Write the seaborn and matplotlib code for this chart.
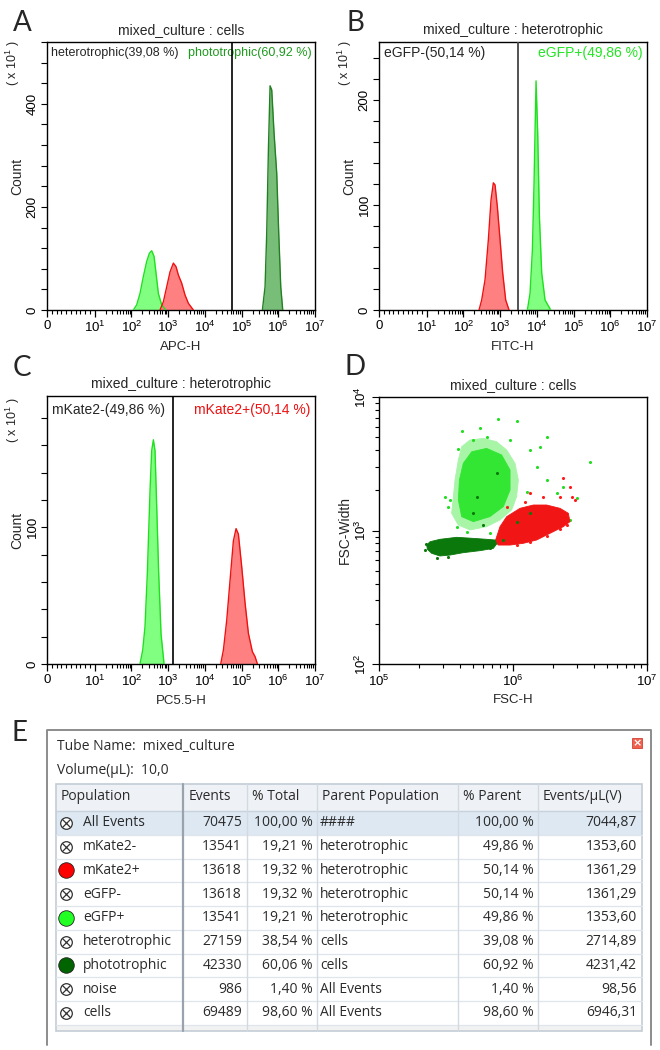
import numpy as np
import matplotlib
matplotlib.use('Agg')
import matplotlib.pyplot as plt
from matplotlib.patches import Rectangle
from matplotlib.ticker import FixedLocator, MultipleLocator, NullFormatter
import seaborn as sns

apc_gfp_x = [113, 139, 171, 211, 260, 308, 356, 413, 468, 542, 667, 858]
apc_gfp_y = [0, 10, 32, 65, 94, 110, 115, 104, 71, 32, 10, 0]
apc_mk_x = [601, 741, 914, 1125, 1387, 1640, 1897, 2339, 2884, 3556, 4864]
apc_mk_y = [0, 16, 45, 74, 91, 84, 68, 52, 29, 13, 0]
apc_photo_x = [369e3, 436e3, 484e3, 538e3, 597e3, 663e3, 767e3, 907e3, 1028e3, 1167e3, 1321e3]
apc_photo_y = [0, 45, 149, 311, 435, 427, 343, 265, 149, 45, 0]

fitc_neg_x = [266, 314, 387, 477, 565, 653, 726, 840, 993, 1175, 1416, 1746]
fitc_neg_y = [0, 9.5, 28.6, 66.7, 105, 121, 119, 98, 67, 35, 9.5, 0]
fitc_pos_x = [5520, 6520, 7550, 8380, 9500, 10550, 11720, 13560, 16710, 23850]
fitc_pos_y = [0, 15.9, 57, 121, 218, 168, 89, 35, 9.5, 0]

pc55_neg_x = [171, 203, 234, 271, 321, 356, 396, 439, 488, 553, 640, 773]
pc55_neg_y = [0, 10.2, 27.3, 66.2, 127, 156, 164, 156, 115, 66, 22, 0]
pc55_pos_x = [27000, 32000, 39400, 48500, 59800, 70800, 81900, 101000, 124500, 153500, 197000, 233000, 270000]
pc55_pos_y = [0, 10.2, 32, 61, 90, 99, 95, 71, 44.5, 22.4, 9, 5.4, 0]

gate_apc = 55000
gate_fitc = 3070
gate_pc55 = 1360

# ---- panel D: cloud outlines and loose events, in log10 decades (FSC-H, FSC-Width)
gfp_outer_lx = [5.555, 5.542, 5.592, 5.679, 5.804, 5.903, 5.990, 6.027, 6.040, 6.015, 5.953, 5.878, 5.779, 5.679, 5.617, 5.592, 5.567]
gfp_outer_ly = [3.253, 3.129, 3.041, 3.004, 3.029, 3.079, 3.154, 3.253, 3.378, 3.503, 3.603, 3.665, 3.690, 3.678, 3.628, 3.528, 3.378]
gfp_core_lx = [5.592, 5.617, 5.704, 5.828, 5.928, 5.978, 5.978, 5.915, 5.803, 5.692, 5.629, 5.600]
gfp_core_ly = [3.228, 3.104, 3.066, 3.104, 3.179, 3.303, 3.453, 3.566, 3.615, 3.590, 3.503, 3.378]
mk_lx = [5.866, 5.903, 5.953, 6.052, 6.152, 6.251, 6.351, 6.413, 6.425, 6.376, 6.276, 6.177, 6.077, 5.978, 5.891]
mk_ly = [2.916, 3.029, 3.104, 3.166, 3.191, 3.191, 3.166, 3.129, 3.066, 3.029, 2.979, 2.929, 2.904, 2.891, 2.891]
photo_lx = [5.356, 5.381, 5.455, 5.580, 5.704, 5.804, 5.866, 5.878, 5.853, 5.754, 5.629, 5.530, 5.455, 5.393, 5.361]
photo_ly = [2.891, 2.916, 2.934, 2.949, 2.941, 2.934, 2.929, 2.899, 2.866, 2.849, 2.834, 2.816, 2.809, 2.829, 2.859]

gfp_pts_lx = [5.891, 6.027, 5.622, 5.754, 6.256, 6.575, 6.475, 6.425, 5.592, 6.127, 6.251, 6.376, 6.177,
              6.326, 6.102, 5.517, 5.493, 5.580, 5.654, 5.828, 5.978, 5.803, 5.704, 5.530, 6.201]
gfp_pts_ly = [3.835, 3.823, 3.748, 3.765, 3.698, 3.516, 3.241, 3.079, 3.608, 3.603, 3.378, 3.328, 3.478,
              3.278, 3.291, 3.179, 3.253, 3.029, 2.991, 2.979, 3.678, 3.703, 3.678, 3.228, 3.628]
mk_pts_lx = [6.376, 6.425, 6.463, 6.438, 6.405, 6.351, 6.251, 6.127, 6.027, 5.828, 6.127, 6.226, 6.090, 6.351, 5.953]
mk_pts_ly = [3.391, 3.328, 3.228, 3.253, 3.041, 3.009, 2.959, 2.916, 2.891, 2.904, 3.278, 3.253, 3.216, 3.253, 3.179]
photo_pts_lx = [5.351, 5.343, 5.430, 5.517, 5.828, 5.779, 5.704, 5.729, 5.878, 6.027, 6.127, 5.928]
photo_pts_ly = [2.899, 2.854, 2.792, 2.799, 2.866, 3.041, 3.129, 3.253, 3.428, 3.066, 3.129, 2.929]

# ---- panel E statistics table
populations = ['All Events', 'mKate2-', 'mKate2+', 'eGFP-', 'eGFP+', 'heterotrophic', 'phototrophic', 'noise', 'cells']
pop_colors = [None, None, '#ff0000', None, '#22ff22', None, '#006400', None, None]
events = [70475, 13541, 13618, 13618, 13541, 27159, 42330, 986, 69489]
pct_total = [100.00, 19.21, 19.32, 19.32, 19.21, 38.54, 60.06, 1.40, 98.60]
parents = ['####', 'heterotrophic', 'heterotrophic', 'heterotrophic', 'heterotrophic', 'cells', 'cells', 'All Events', 'All Events']
pct_parent = [100.00, 49.86, 50.14, 50.14, 49.86, 39.08, 60.92, 1.40, 98.60]
events_per_ul = [7044.87, 1353.60, 1361.29, 1361.29, 1353.60, 2714.89, 4231.42, 98.56, 6946.31]
columns = ['Population', 'Events', '% Total', 'Parent Population', '% Parent', 'Events/µL(V)']

sns.set_theme(style='white')
plt.rcParams['font.family'] = ['Liberation Sans', 'DejaVu Sans']
plt.rcParams['mathtext.fontset'] = 'custom'
plt.rcParams['mathtext.rm'] = 'Liberation Sans'
plt.rcParams['mathtext.it'] = 'Liberation Sans:italic'
plt.rcParams['mathtext.bf'] = 'Liberation Sans:bold'

LGREEN_FILL, LGREEN_EDGE = '#80ff80', '#1fe01f'
RED_FILL, RED_EDGE = '#ff8080', '#ee1111'
DGREEN_FILL, DGREEN_EDGE = '#78bd78', '#237f23'


def comma(v, nd=2):
    return f'{v:.{nd}f}'.replace('.', ',')


def base_style(ax):
    for s in ax.spines.values():
        s.set_visible(True)
        s.set_color('black')
        s.set_linewidth(1.0)
    ax.tick_params(which='both', direction='out', bottom=True, left=True, top=False, right=False,
                   colors='black', labelsize=9.5, pad=2)
    ax.tick_params(axis='x', which='major', length=5, width=0.9)
    ax.tick_params(axis='x', which='minor', length=3, width=0.8)
    ax.tick_params(axis='y', which='both', length=4, width=0.8)
    ax.set_xlabel('')
    ax.set_ylabel('')


def flow_hist(ax, ymax, ystep, ylabels, title, xlabel, ylabel_y):
    ax.set_xscale('symlog', linthresh=10, linscale=1.17)
    ax.set_xlim(0, 1e7)
    ax.set_xticks([0] + [10 ** k for k in range(1, 8)])
    ax.set_xticklabels(['0'] + [rf'$\mathregular{{10^{{{k}}}}}$' for k in range(1, 8)])
    minors = list(range(1, 10)) + [m * 10 ** k for k in range(1, 7) for m in range(2, 10)]
    ax.xaxis.set_minor_locator(FixedLocator(minors))
    ax.xaxis.set_minor_formatter(NullFormatter())
    ax.set_ylim(0, ymax)
    ax.yaxis.set_major_locator(FixedLocator(ylabels))
    ax.yaxis.set_minor_locator(MultipleLocator(ystep))
    ax.set_yticklabels([str(v) for v in ylabels], rotation=90, va='center')
    base_style(ax)
    ax.text(0.5, 1.045, title, transform=ax.transAxes, ha='center', va='center', fontsize=10)
    ax.text(0.5, -0.138, xlabel, transform=ax.transAxes, ha='center', va='center', fontsize=9.5)
    ax.text(-0.112, 0.5, 'Count', transform=ax.transAxes, rotation=90, ha='center', va='center', fontsize=10)
    ax.text(-0.128, ylabel_y, r'( x $\mathregular{10^{1}}$ )', transform=ax.transAxes, rotation=90,
            ha='center', va='center', fontsize=9)


def draw_peak(ax, x, y, fill, edge):
    ax.fill_between(x, y, color=fill, lw=0, zorder=2)
    sns.lineplot(x=x, y=y, ax=ax, color=edge, lw=1.0, estimator=None, sort=False, zorder=3)


fig = plt.figure(figsize=(6.6, 10.5), dpi=100)
W, H = 660, 1050


def rect(l, t, w, h):
    return [l / W, (H - t - h) / H, w / W, h / H]


# ---------------- A
axA = fig.add_axes(rect(47, 42, 268, 268))
draw_peak(axA, apc_gfp_x, apc_gfp_y, LGREEN_FILL, LGREEN_EDGE)
draw_peak(axA, apc_mk_x, apc_mk_y, RED_FILL, RED_EDGE)
draw_peak(axA, apc_photo_x, apc_photo_y, DGREEN_FILL, DGREEN_EDGE)
axA.axvline(gate_apc, color='black', lw=1.2, zorder=4)
flow_hist(axA, 520, 40, [0, 200, 400], 'mixed_culture : cells', 'APC-H', 0.92)
axA.text(0.015, 0.958, 'heterotrophic(39,08 %)', transform=axA.transAxes, ha='left', va='center', fontsize=9)
axA.text(0.988, 0.958, 'phototrophic(60,92 %)', transform=axA.transAxes, ha='right', va='center', fontsize=9,
         color='#1e9a1e')

# ---------------- B
axB = fig.add_axes(rect(379, 42, 268, 268))
draw_peak(axB, fitc_neg_x, fitc_neg_y, RED_FILL, RED_EDGE)
draw_peak(axB, fitc_pos_x, fitc_pos_y, LGREEN_FILL, LGREEN_EDGE)
axB.axvline(gate_fitc, color='#444444', lw=1.3, zorder=4)
flow_hist(axB, 255, 20, [0, 100, 200], 'mixed_culture : heterotrophic', 'FITC-H', 0.92)
axB.text(0.019, 0.958, 'eGFP-(50,14 %)', transform=axB.transAxes, ha='left', va='center', fontsize=10)
axB.text(0.985, 0.958, 'eGFP+(49,86 %)', transform=axB.transAxes, ha='right', va='center', fontsize=10,
         color='#22e622')

# ---------------- C
axC = fig.add_axes(rect(47, 396, 268, 268))
draw_peak(axC, pc55_neg_x, pc55_neg_y, LGREEN_FILL, LGREEN_EDGE)
draw_peak(axC, pc55_pos_x, pc55_pos_y, RED_FILL, RED_EDGE)
axC.axvline(gate_pc55, color='black', lw=1.2, zorder=4)
flow_hist(axC, 196, 20, [0, 100], 'mixed_culture : heterotrophic', 'PC5.5-H', 0.91)
axC.text(0.019, 0.948, 'mKate2-(49,86 %)', transform=axC.transAxes, ha='left', va='center', fontsize=10)
axC.text(0.981, 0.948, 'mKate2+(50,14 %)', transform=axC.transAxes, ha='right', va='center', fontsize=10,
         color='#ee1111')

# ---------------- D
axD = fig.add_axes(rect(379, 397, 268, 267))
axD.set_xscale('log')
axD.set_yscale('log')


def cloud(lx, ly, color, z):
    axD.fill(10 ** np.array(lx), 10 ** np.array(ly), color=color, lw=0.6, edgecolor=color, zorder=z)


cloud(gfp_outer_lx, gfp_outer_ly, '#a8f5a8', 2)
cloud(gfp_core_lx, gfp_core_ly, '#33e633', 3)
sns.scatterplot(x=10 ** np.array(gfp_pts_lx), y=10 ** np.array(gfp_pts_ly), ax=axD, color='#22dd22',
                s=5, linewidth=0, zorder=4)
sns.scatterplot(x=10 ** np.array(mk_pts_lx), y=10 ** np.array(mk_pts_ly), ax=axD, color='#ff1a1a',
                s=5, linewidth=0, zorder=4)
cloud(mk_lx, mk_ly, '#f21515', 5)
cloud(photo_lx, photo_ly, '#0b780b', 6)
sns.scatterplot(x=10 ** np.array(photo_pts_lx), y=10 ** np.array(photo_pts_ly), ax=axD, color='#0b780b',
                s=5, linewidth=0, zorder=7)
axD.set_xlim(1e5, 1e7)
axD.set_ylim(1e2, 1e4)
axD.set_xticks([1e5, 1e6, 1e7])
axD.set_xticklabels([rf'$\mathregular{{10^{{{k}}}}}$' for k in (5, 6, 7)])
axD.set_yticks([1e2, 1e3, 1e4])
axD.set_yticklabels([rf'$\mathregular{{10^{{{k}}}}}$' for k in (2, 3, 4)], rotation=90, va='center')
axD.xaxis.set_minor_locator(FixedLocator([m * 10 ** k for k in (5, 6) for m in range(2, 10)]))
axD.yaxis.set_minor_locator(FixedLocator([m * 10 ** k for k in (2, 3) for m in range(2, 10)]))
axD.xaxis.set_minor_formatter(NullFormatter())
axD.yaxis.set_minor_formatter(NullFormatter())
base_style(axD)
axD.tick_params(axis='y', which='major', length=5)
axD.tick_params(axis='y', which='minor', length=3)
axD.text(0.5, 1.045, 'mixed_culture : cells', transform=axD.transAxes, ha='center', va='center', fontsize=10)
axD.text(0.5, -0.134, 'FSC-H', transform=axD.transAxes, ha='center', va='center', fontsize=9.5)
axD.text(-0.127, 0.5, 'FSC-Width', transform=axD.transAxes, rotation=90, ha='center', va='center', fontsize=10)

# ---------------- E (table) and panel letters on a full-figure canvas
axT = fig.add_axes([0, 0, 1, 1], zorder=-1)
axT.set_xlim(0, W)
axT.set_ylim(H, 0)
axT.axis('off')

for letter, (lx, ly) in zip('ABCDE', [(22, 23), (355, 23), (22, 368), (355, 367), (20, 733)]):
    axT.text(lx, ly, letter, ha='center', va='center', fontsize=20, family='Lato')

frame = '#8c8c8c'
axT.plot([47, 47, 651, 651], [1045, 730, 730, 1045], color=frame, lw=1.4)
axT.add_patch(Rectangle((632, 738), 10, 10, facecolor='#f0604f', edgecolor='#d04030', lw=0.6))
axT.text(637, 743.5, '×', ha='center', va='center', color='white', fontsize=8, fontweight='bold',
         family='DejaVu Sans')

tfont = dict(family='Open Sans', fontsize=10, color='#2b2b2b')
axT.text(57, 747, 'Tube Name:  mixed_culture', ha='left', va='center', **tfont)
axT.text(57, 770, 'Volume(µL):  10,0', ha='left', va='center', **tfont)

t_left, t_right, t_top, t_bot = 56, 642, 784, 1031
hdr_bot, pitch = 811, 23.75
col_edges = [183, 247, 317, 458, 538]
axT.add_patch(Rectangle((t_left, t_top), t_right - t_left, hdr_bot - t_top, facecolor='#eef2f6', edgecolor='none'))
axT.add_patch(Rectangle((t_left, hdr_bot), t_right - t_left, pitch, facecolor='#dde8f3', edgecolor='none'))
rows_end = hdr_bot + pitch * len(populations)
axT.add_patch(Rectangle((t_left, rows_end), t_right - t_left, t_bot - rows_end, facecolor='#f2f2f2', edgecolor='none'))
for i in range(1, len(populations) + 1):
    yy = hdr_bot + pitch * i
    axT.plot([t_left, t_right], [yy, yy], color='#dfe5eb', lw=0.9)
axT.plot([t_left, t_right], [hdr_bot, hdr_bot], color='#c9d2dc', lw=1.0)
for j, xe in enumerate(col_edges):
    axT.plot([xe, xe], [t_top, t_bot], color='#9aa3ad' if j == 0 else '#d3d9e0', lw=1.6 if j == 0 else 1.0)
axT.add_patch(Rectangle((t_left, t_top), t_right - t_left, t_bot - t_top, facecolor='none', edgecolor='#c3ccd6', lw=1.2))

hdr_x = [61, 189, 252, 322, 463, 543]
for hx, name in zip(hdr_x, columns):
    axT.text(hx, 797, name, ha='left', va='center', **tfont)

row_y = hdr_bot + pitch * (np.arange(len(populations)) + 0.5)
for i, y in enumerate(row_y):
    c = pop_colors[i]
    if c is None:
        axT.scatter(66, y, s=70, facecolor='white', edgecolor='#333333', lw=0.9, zorder=3)
        axT.scatter(66, y, s=34, marker='x', color='#333333', lw=0.9, zorder=4)
    else:
        axT.scatter(66, y, s=125, color=c, edgecolor='#222222', lw=0.6, zorder=3)
    axT.text(83, y, populations[i], ha='left', va='center', **tfont)
    axT.text(242, y, str(events[i]), ha='right', va='center', **tfont)
    axT.text(313, y, comma(pct_total[i]) + ' %', ha='right', va='center', **tfont)
    axT.text(320, y, parents[i], ha='left', va='center', **tfont)
    axT.text(534, y, comma(pct_parent[i]) + ' %', ha='right', va='center', **tfont)
    axT.text(637, y, comma(events_per_ul[i]), ha='right', va='center', **tfont)

fig.savefig('out.png', dpi=100)
